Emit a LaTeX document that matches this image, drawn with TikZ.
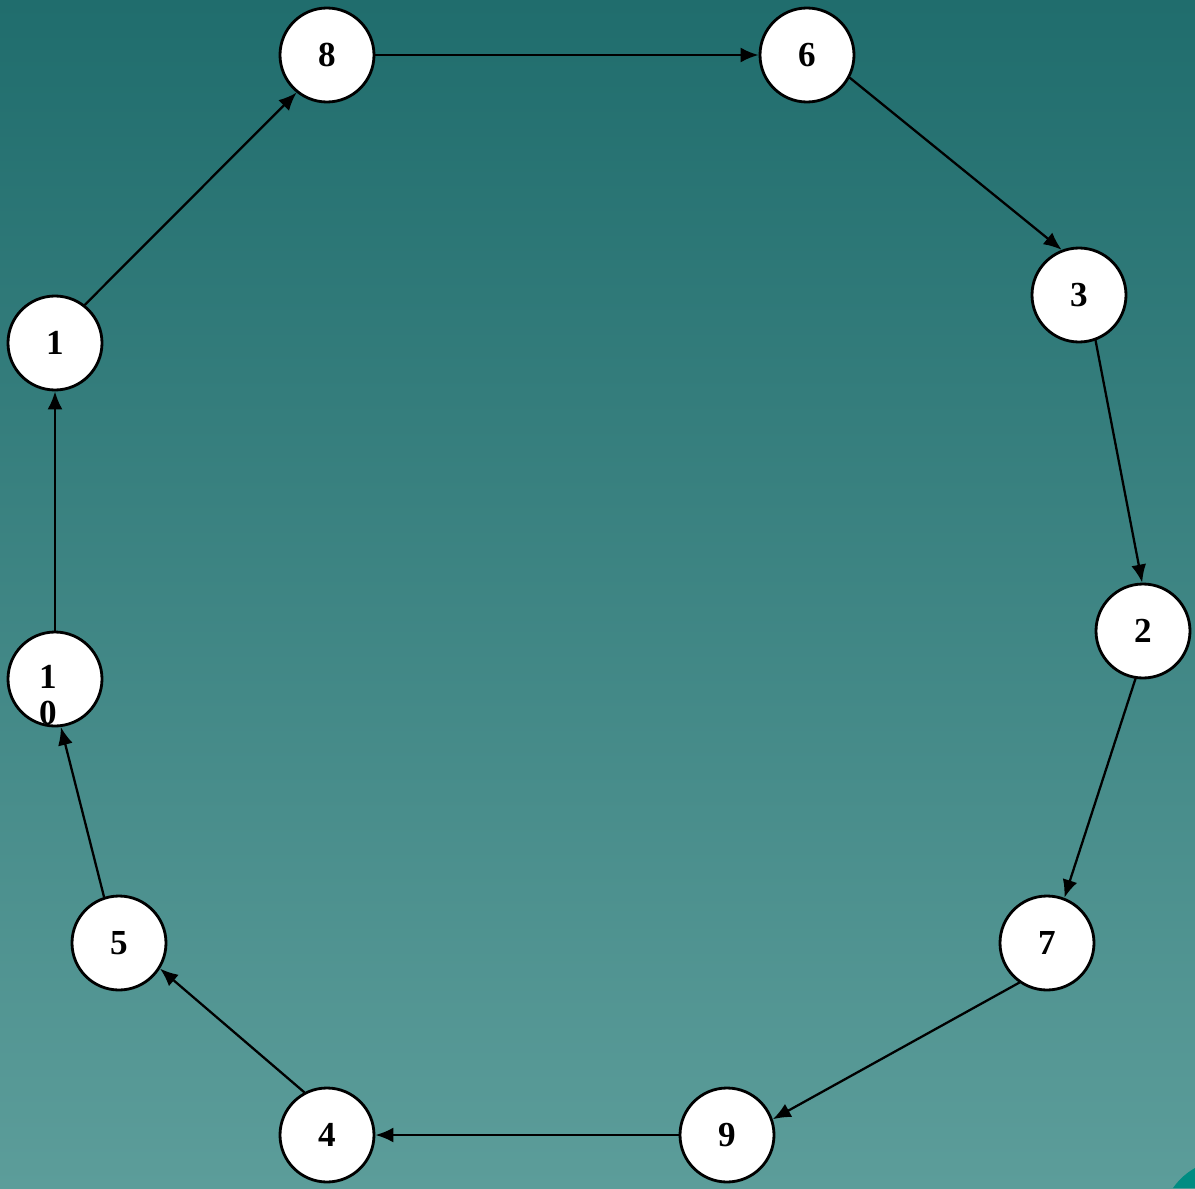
\documentclass[tikz,border=0pt]{standalone}
\usepackage{fontspec}
\setmainfont{Liberation Serif}
\usetikzlibrary{arrows.meta}

\definecolor{bgtop}{RGB}{32,109,109}
\definecolor{bgbot}{RGB}{92,157,154}
\definecolor{cornerteal}{RGB}{0,140,130}

\begin{document}
\begin{tikzpicture}[line cap=round,line join=round,
    numnode/.style={circle,draw,fill=white,line width=0.8pt,minimum size=0.94cm,inner sep=0pt,
      font=\fontsize{10}{10}\selectfont\bfseries},
    flow/.style={line width=0.65pt,-{Latex[length=0.18cm,width=0.15cm]}}]
  \useasboundingbox (0,0) rectangle (11.95,11.88);
  \shade[top color=bgtop,bottom color=bgbot] (0,0) rectangle (11.95,11.88);
  \fill[cornerteal] (11.73,0) .. controls (11.80,0.10) and (11.88,0.16) .. (11.95,0.20) -- (11.95,0) -- cycle;
  \node[numnode] (n8) at (3.27,11.33) {8};
  \node[numnode] (n6) at (8.07,11.33) {6};
  \node[numnode] (n3) at (10.79,8.93) {3};
  \node[numnode] (n2) at (11.43,5.57) {2};
  \node[numnode] (n7) at (10.47,2.45) {7};
  \node[numnode] (n9) at (7.27,0.53) {9};
  \node[numnode] (n4) at (3.27,0.53) {4};
  \node[numnode] (n5) at (1.19,2.45) {5};
  \node[numnode,label={[font=\fontsize{10}{10}\selectfont\bfseries,align=left,inner sep=0pt,
      xshift=-0.07cm,yshift=-0.16cm]center:1\\0}] (n10) at (0.55,5.09) {};
  \node[numnode] (n1) at (0.55,8.45) {1};
  \draw[flow] (n1.52) -- (n8.231);
  \draw[flow] (n8.east) -- (n6.west);
  \draw[flow] (n6.-28) -- (n3.111);
  \draw[flow] (n3.-70) -- (n2.91);
  \draw[flow] (n2.-99) -- (n7.69);
  \draw[flow] (n7.-125) -- (n9.19);
  \draw[flow] (n9.west) -- (n4.east);
  \draw[flow] (n4.118) -- (n5.-32);
  \draw[flow] (n5.108) -- (n10.-83);
  \draw[flow] (n10.north) -- (n1.south);
\end{tikzpicture}
\end{document}
